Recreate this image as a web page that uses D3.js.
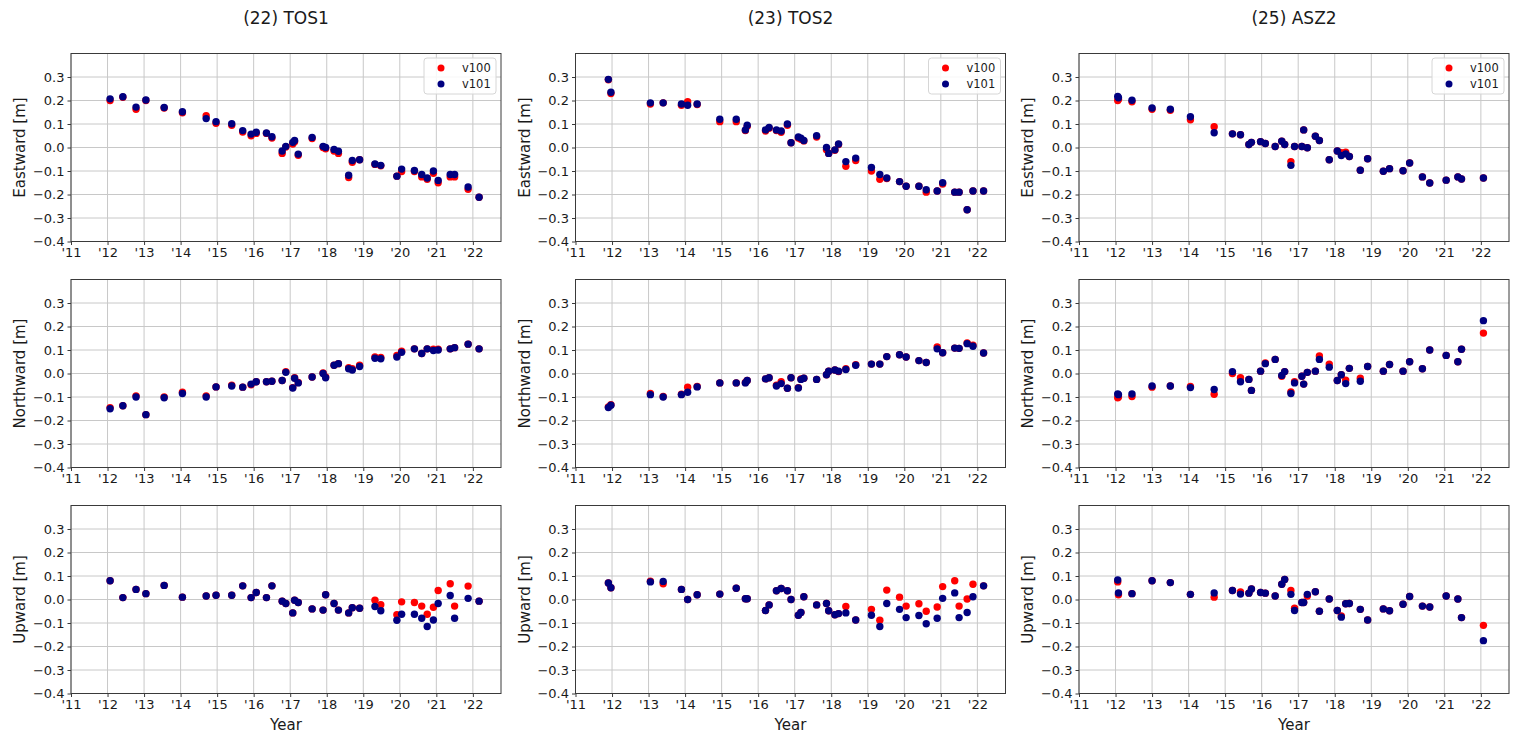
<!DOCTYPE html>
<html>
<head>
<meta charset="utf-8">
<script src="https://cdn.jsdelivr.net/npm/d3@7"></script>
<style>
  html, body { margin: 0; padding: 0; background: #fff; }
  svg { display: block; font-family: "DejaVu Sans", sans-serif; }
</style>
</head>
<body>
<svg id="chart" width="1517" height="737"></svg>
<script>
// ---------- data ----------
const stationTitles = ["(22) TOS1", "(23) TOS2", "(25) ASZ2"];
const componentLabels = ["Eastward [m]", "Northward [m]", "Upward [m]"];
const seriesNames = ["v100", "v101"];
const xTickValues = [2011, 2012, 2013, 2014, 2015, 2016, 2017, 2018, 2019, 2020, 2021, 2022];
const yTickValues = [-0.4, -0.3, -0.2, -0.1, 0.0, 0.1, 0.2, 0.3];

const tos1Years = [2012.07, 2012.42, 2012.78, 2013.05, 2013.55, 2014.05, 2014.70, 2014.97, 2015.40, 2015.70, 2015.93, 2016.07, 2016.35, 2016.50, 2016.78, 2016.88, 2017.07, 2017.12, 2017.22, 2017.60, 2017.90, 2017.97, 2018.20, 2018.32, 2018.60, 2018.70, 2018.90, 2019.32, 2019.48, 2019.92, 2020.05, 2020.40, 2020.60, 2020.75, 2020.92, 2021.05, 2021.38, 2021.50, 2021.87, 2022.17];
const tos1East_v100 = [0.200, 0.214, 0.163, 0.200, 0.168, 0.148, 0.135, 0.103, 0.095, 0.066, 0.050, 0.060, 0.060, 0.040, -0.025, 0.002, 0.015, 0.025, -0.033, 0.038, 0.000, -0.005, -0.015, -0.025, -0.128, -0.063, -0.052, -0.072, -0.078, -0.122, -0.102, -0.102, -0.125, -0.135, -0.110, -0.150, -0.125, -0.125, -0.178, -0.212];
const tos1East_v101 = [0.207, 0.216, 0.172, 0.202, 0.170, 0.152, 0.123, 0.110, 0.101, 0.072, 0.057, 0.065, 0.062, 0.046, -0.015, 0.005, 0.022, 0.030, -0.028, 0.043, 0.005, 0.000, -0.008, -0.016, -0.118, -0.055, -0.052, -0.070, -0.076, -0.122, -0.092, -0.098, -0.115, -0.130, -0.100, -0.140, -0.115, -0.115, -0.168, -0.212];
const tos1North_v100 = [-0.145, -0.137, -0.095, -0.175, -0.100, -0.080, -0.095, -0.057, -0.050, -0.058, -0.048, -0.035, -0.035, -0.033, -0.030, 0.008, -0.060, -0.018, -0.038, -0.015, 0.002, -0.015, 0.035, 0.042, 0.025, 0.020, 0.035, 0.070, 0.068, 0.077, 0.095, 0.105, 0.085, 0.105, 0.103, 0.103, 0.105, 0.110, 0.125, 0.105];
const tos1North_v101 = [-0.150, -0.137, -0.100, -0.175, -0.103, -0.085, -0.100, -0.057, -0.053, -0.058, -0.045, -0.035, -0.035, -0.033, -0.030, 0.005, -0.062, -0.020, -0.040, -0.015, 0.000, -0.018, 0.035, 0.042, 0.020, 0.015, 0.030, 0.065, 0.063, 0.070, 0.090, 0.105, 0.085, 0.105, 0.098, 0.100, 0.105, 0.110, 0.125, 0.105];
const tos1Up_v100 = [0.080, 0.008, 0.043, 0.025, 0.060, 0.010, 0.015, 0.018, 0.018, 0.058, 0.008, 0.030, 0.008, 0.058, -0.007, -0.017, -0.057, -0.003, -0.013, -0.040, -0.045, 0.020, -0.017, -0.045, -0.057, -0.035, -0.037, -0.003, -0.022, -0.065, -0.010, -0.013, -0.028, -0.063, -0.033, 0.038, 0.067, -0.028, 0.057, -0.007];
const tos1Up_v101 = [0.080, 0.008, 0.043, 0.025, 0.060, 0.010, 0.015, 0.018, 0.018, 0.058, 0.008, 0.030, 0.008, 0.058, -0.007, -0.017, -0.057, -0.003, -0.013, -0.040, -0.045, 0.020, -0.017, -0.045, -0.057, -0.035, -0.037, -0.030, -0.048, -0.088, -0.063, -0.063, -0.080, -0.115, -0.087, -0.017, 0.017, -0.080, 0.005, -0.007];

const tos2Years = [2011.90, 2011.97, 2013.05, 2013.40, 2013.90, 2014.07, 2014.33, 2014.95, 2015.40, 2015.65, 2015.70, 2016.20, 2016.30, 2016.50, 2016.63, 2016.80, 2016.90, 2017.10, 2017.17, 2017.25, 2017.60, 2017.87, 2017.93, 2018.10, 2018.20, 2018.40, 2018.67, 2019.10, 2019.33, 2019.52, 2019.87, 2020.05, 2020.40, 2020.60, 2020.90, 2021.05, 2021.38, 2021.50, 2021.72, 2021.88, 2022.17];
const tos2East_v100 = [0.288, 0.230, 0.185, 0.190, 0.180, 0.195, 0.183, 0.110, 0.110, 0.072, 0.090, 0.070, 0.082, 0.072, 0.065, 0.095, 0.020, 0.040, 0.035, 0.028, 0.045, -0.010, -0.025, -0.012, 0.013, -0.080, -0.055, -0.100, -0.135, -0.132, -0.145, -0.165, -0.165, -0.190, -0.185, -0.155, -0.190, -0.190, -0.265, -0.185, -0.185];
const tos2East_v101 = [0.290, 0.235, 0.190, 0.190, 0.185, 0.180, 0.185, 0.120, 0.120, 0.075, 0.095, 0.075, 0.085, 0.075, 0.070, 0.100, 0.020, 0.045, 0.040, 0.030, 0.050, 0.000, -0.025, -0.010, 0.015, -0.060, -0.045, -0.085, -0.115, -0.130, -0.145, -0.165, -0.165, -0.180, -0.185, -0.150, -0.190, -0.190, -0.265, -0.185, -0.185];
const tos2North_v100 = [-0.142, -0.133, -0.085, -0.098, -0.088, -0.058, -0.055, -0.040, -0.040, -0.038, -0.030, -0.023, -0.018, -0.050, -0.035, -0.063, -0.018, -0.060, -0.023, -0.020, -0.025, -0.005, 0.010, 0.015, 0.008, 0.020, 0.037, 0.040, 0.040, 0.072, 0.080, 0.070, 0.055, 0.047, 0.113, 0.088, 0.108, 0.107, 0.130, 0.120, 0.087];
const tos2North_v101 = [-0.145, -0.135, -0.090, -0.100, -0.090, -0.080, -0.057, -0.040, -0.040, -0.040, -0.030, -0.023, -0.018, -0.053, -0.043, -0.063, -0.018, -0.062, -0.025, -0.020, -0.025, -0.005, 0.010, 0.015, 0.010, 0.017, 0.035, 0.040, 0.040, 0.072, 0.080, 0.070, 0.055, 0.047, 0.105, 0.088, 0.108, 0.107, 0.127, 0.116, 0.087];
const tos2Up_v100 = [0.070, 0.050, 0.078, 0.067, 0.043, 0.000, 0.020, 0.023, 0.048, 0.003, 0.003, -0.047, -0.023, 0.037, 0.047, 0.037, 0.000, -0.067, -0.055, 0.012, -0.023, -0.017, -0.048, -0.065, -0.060, -0.030, -0.087, -0.042, -0.088, 0.040, 0.010, -0.028, -0.018, -0.050, -0.032, 0.055, 0.080, -0.028, 0.002, 0.065, 0.058];
const tos2Up_v101 = [0.070, 0.050, 0.075, 0.077, 0.043, 0.000, 0.020, 0.023, 0.048, 0.003, 0.003, -0.047, -0.023, 0.037, 0.047, 0.037, 0.000, -0.067, -0.055, 0.012, -0.023, -0.017, -0.048, -0.065, -0.060, -0.057, -0.087, -0.067, -0.115, -0.017, -0.042, -0.077, -0.068, -0.103, -0.080, 0.005, 0.028, -0.077, -0.055, 0.012, 0.058];

const asz2Years = [2012.06, 2012.08, 2012.45, 2013.00, 2013.50, 2014.05, 2014.70, 2015.20, 2015.42, 2015.65, 2015.72, 2015.97, 2016.10, 2016.37, 2016.55, 2016.63, 2016.80, 2016.90, 2017.10, 2017.15, 2017.25, 2017.47, 2017.58, 2017.85, 2018.07, 2018.18, 2018.30, 2018.40, 2018.70, 2018.90, 2019.33, 2019.50, 2019.87, 2020.05, 2020.40, 2020.60, 2021.05, 2021.37, 2021.47, 2022.07];
const asz2East_v100 = [0.200, 0.205, 0.195, 0.163, 0.158, 0.118, 0.088, 0.058, 0.054, 0.013, 0.022, 0.025, 0.017, 0.004, 0.027, 0.013, -0.060, 0.004, 0.004, 0.075, -0.001, 0.048, 0.030, -0.052, -0.015, -0.022, -0.020, -0.038, -0.097, -0.048, -0.101, -0.090, -0.099, -0.066, -0.125, -0.151, -0.139, -0.125, -0.134, -0.130];
const asz2East_v101 = [0.217, 0.212, 0.201, 0.168, 0.163, 0.131, 0.063, 0.058, 0.054, 0.013, 0.022, 0.025, 0.017, 0.004, 0.027, 0.013, -0.076, 0.004, 0.004, 0.075, -0.001, 0.048, 0.030, -0.052, -0.015, -0.034, -0.027, -0.038, -0.097, -0.048, -0.101, -0.090, -0.099, -0.066, -0.125, -0.151, -0.139, -0.125, -0.134, -0.130];
const asz2North_v100 = [-0.103, -0.100, -0.098, -0.058, -0.053, -0.055, -0.088, 0.000, -0.018, -0.025, -0.072, 0.010, 0.045, 0.060, -0.012, 0.008, -0.078, -0.035, -0.012, -0.045, 0.005, 0.010, 0.075, 0.040, -0.030, -0.005, -0.028, 0.022, -0.020, 0.030, 0.010, 0.038, 0.010, 0.050, 0.020, 0.100, 0.077, 0.050, 0.103, 0.172];
const asz2North_v101 = [-0.087, -0.090, -0.087, -0.053, -0.053, -0.060, -0.068, 0.008, -0.035, -0.025, -0.072, 0.010, 0.042, 0.060, -0.008, 0.008, -0.085, -0.040, -0.012, -0.045, 0.005, 0.010, 0.060, 0.027, -0.030, -0.005, -0.043, 0.022, -0.033, 0.030, 0.010, 0.038, 0.010, 0.050, 0.020, 0.100, 0.077, 0.050, 0.103, 0.225];
const asz2Up_v100 = [0.075, 0.020, 0.025, 0.080, 0.072, 0.022, 0.010, 0.038, 0.032, 0.027, 0.045, 0.030, 0.027, 0.015, 0.065, 0.085, 0.038, -0.037, -0.013, -0.013, 0.015, 0.033, -0.050, 0.002, -0.047, -0.070, -0.018, -0.017, -0.042, -0.087, -0.040, -0.048, -0.020, 0.013, -0.028, -0.032, 0.015, 0.002, -0.077, -0.110];
const asz2Up_v101 = [0.083, 0.028, 0.025, 0.080, 0.072, 0.022, 0.028, 0.038, 0.023, 0.027, 0.045, 0.030, 0.027, 0.015, 0.065, 0.085, 0.022, -0.047, -0.013, -0.013, 0.022, 0.033, -0.050, 0.002, -0.047, -0.075, -0.018, -0.017, -0.042, -0.087, -0.040, -0.048, -0.020, 0.013, -0.028, -0.032, 0.015, 0.002, -0.077, -0.175];

// panel table built from the arrays above: [row][col]
const panelData = [
  [[tos1Years, tos1East_v100, tos1East_v101], [tos2Years, tos2East_v100, tos2East_v101], [asz2Years, asz2East_v100, asz2East_v101]],
  [[tos1Years, tos1North_v100, tos1North_v101], [tos2Years, tos2North_v100, tos2North_v101], [asz2Years, asz2North_v100, asz2North_v101]],
  [[tos1Years, tos1Up_v100, tos1Up_v101], [tos2Years, tos2Up_v100, tos2Up_v101], [asz2Years, asz2Up_v100, asz2Up_v101]]
];

// ---------- layout / style ----------
const colLefts = [71, 575.5, 1079];
const rowTops = [53.5, 279.5, 505.5];
const panelW = 430, panelH = 188;
const seriesColors = ["#ff0000", "#000080"];
const gridColor = "#c8c8c8";
const frameColor = "#3a3a3a";
const textColor = "#1a1a1a";

const svg = d3.select("#chart");

const x = d3.scaleLinear().domain([2011, 2022.77]).range([0, panelW]);
const y = d3.scaleLinear().domain([-0.4, 0.4]).range([panelH, 0]);
const yFmt = d3.format(".1f");

panelData.forEach((row, r) => {
  row.forEach((cell, c) => {
    const [years, s100, s101] = cell;
    const g = svg.append("g").attr("transform", `translate(${colLefts[c]},${rowTops[r]})`);

    // grid
    g.append("g").selectAll("line").data(xTickValues).join("line")
      .attr("x1", d => x(d)).attr("x2", d => x(d))
      .attr("y1", 0).attr("y2", panelH)
      .attr("stroke", gridColor).attr("stroke-width", 1);
    g.append("g").selectAll("line").data(yTickValues).join("line")
      .attr("x1", 0).attr("x2", panelW)
      .attr("y1", d => y(d)).attr("y2", d => y(d))
      .attr("stroke", gridColor).attr("stroke-width", 1);

    // axes
    const xAxis = d3.axisBottom(x).tickValues(xTickValues)
      .tickFormat(d => "'" + String(d % 100).padStart(2, "0"))
      .tickSize(3.5).tickPadding(3);
    const yAxis = d3.axisLeft(y).tickValues(yTickValues)
      .tickFormat(d => yFmt(d)).tickSize(3.5).tickPadding(3);

    const gx = g.append("g").attr("transform", `translate(0,${panelH})`).call(xAxis);
    const gy = g.append("g").call(yAxis);
    [gx, gy].forEach(ax => {
      ax.select(".domain").remove();
      ax.selectAll(".tick line").attr("stroke", frameColor);
      ax.selectAll(".tick text").attr("fill", textColor)
        .style("font-family", "'DejaVu Sans', sans-serif").style("font-size", "13px");
    });

    // points: v100 first, v101 on top
    [s100, s101].forEach((vals, si) => {
      const pts = vals.map((v, i) => ({ t: years[i], v })).filter(p => p.t !== undefined && p.v !== undefined);
      g.append("g").selectAll("circle").data(pts).join("circle")
        .attr("cx", d => x(d.t)).attr("cy", d => y(d.v))
        .attr("r", 3.7).attr("fill", seriesColors[si]);
    });

    // frame
    g.append("rect").attr("x", 0).attr("y", 0).attr("width", panelW).attr("height", panelH)
      .attr("fill", "none").attr("stroke", frameColor).attr("stroke-width", 1);

    // y label
    g.append("text")
      .attr("transform", `translate(${-51},${panelH / 2}) rotate(-90)`)
      .attr("text-anchor", "middle").attr("dy", "0.35em")
      .attr("fill", textColor).style("font-size", "15px")
      .text(componentLabels[r]);

    // title
    if (r === 0) {
      svg.append("text")
        .attr("x", colLefts[c] + panelW / 2).attr("y", 24)
        .attr("text-anchor", "middle").attr("fill", textColor)
        .style("font-size", "17px")
        .text(stationTitles[c]);

      // legend
      const lg = g.append("g").attr("transform", `translate(${panelW - 77},4.5)`);
      lg.append("rect").attr("width", 72).attr("height", 36).attr("rx", 3)
        .attr("fill", "#fff").attr("fill-opacity", 0.85)
        .attr("stroke", "#d6d6d6").attr("stroke-width", 1);
      seriesNames.forEach((nm, si) => {
        lg.append("circle").attr("cx", 17).attr("cy", 10 + si * 16).attr("r", 3.5).attr("fill", seriesColors[si]);
        lg.append("text").attr("x", 38).attr("y", 10 + si * 16).attr("dy", "0.35em")
          .attr("fill", textColor).style("font-size", "11.5px").text(nm);
      });
    }

    // x label
    if (r === 2) {
      svg.append("text")
        .attr("x", colLefts[c] + panelW / 2).attr("y", rowTops[r] + panelH + 36)
        .attr("text-anchor", "middle").attr("fill", textColor)
        .style("font-size", "15px").text("Year");
    }
  });
});
</script>
</body>
</html>
